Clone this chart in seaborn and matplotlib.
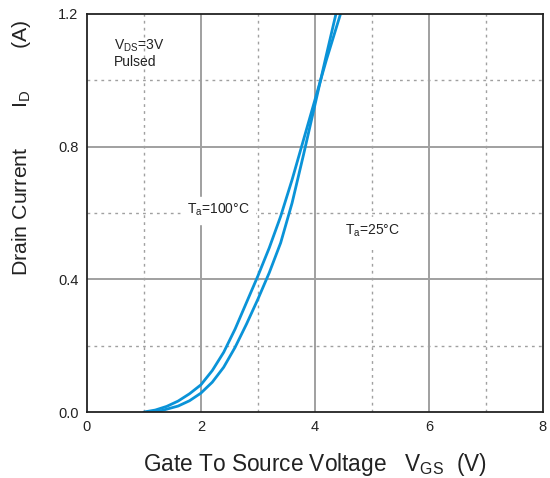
import numpy as np
import pandas as pd
import matplotlib
matplotlib.use("Agg")
import matplotlib.pyplot as plt
import seaborn as sns

# Transfer characteristics
vgs_100 = [1.0, 1.2, 1.4, 1.6, 1.8, 2.0, 2.2, 2.4, 2.6, 2.8, 3.0, 3.2, 3.4, 3.6, 3.8, 4.0, 4.2, 4.45]
id_100 = [0.0, 0.006, 0.017, 0.033, 0.055, 0.082, 0.125, 0.18, 0.25, 0.33, 0.41, 0.495, 0.59, 0.70, 0.82, 0.94, 1.06, 1.2]

vgs_25 = [1.05, 1.3, 1.6, 1.8, 2.0, 2.2, 2.4, 2.6, 2.8, 3.0, 3.2, 3.4, 3.6, 3.8, 4.0, 4.2, 4.37]
id_25 = [0.0, 0.004, 0.018, 0.034, 0.057, 0.09, 0.135, 0.195, 0.265, 0.34, 0.42, 0.51, 0.63, 0.775, 0.925, 1.075, 1.2]

x_ticks = [0, 2, 4, 6, 8]
y_ticks = [0.0, 0.4, 0.8, 1.2]
y_tick_labels = ["0.0", "0.4", "0.8", "1.2"]

sns.set_style("white")
plt.rcParams['font.family'] = ['Liberation Sans', 'DejaVu Sans']
plt.rcParams['mathtext.fontset'] = 'custom'
plt.rcParams['mathtext.rm'] = 'Liberation Sans'

df = pd.concat([
    pd.DataFrame({'vgs': vgs_100, 'id': id_100, 'temp': '100'}),
    pd.DataFrame({'vgs': vgs_25, 'id': id_25, 'temp': '25'}),
])

fig = plt.figure(figsize=(5.5, 4.78), dpi=100)
ax = fig.add_axes([0.158, 0.138, 0.829, 0.833])

# grid: solid at major, dotted at minor
for x in [2, 4, 6]:
    ax.axvline(x, color='#a0a0a0', lw=1.4, zorder=0)
for x in [1, 3, 5, 7]:
    ax.axvline(x, color='#a0a0a0', lw=1.0, ls=(0, (2, 3)), zorder=0)
for y in [0.4, 0.8]:
    ax.axhline(y, color='#a0a0a0', lw=1.4, zorder=0)
for y in [0.2, 0.6, 1.0]:
    ax.axhline(y, color='#a0a0a0', lw=1.0, ls=(0, (2, 3)), zorder=0)

sns.lineplot(data=df, x='vgs', y='id', units='temp', estimator=None,
             color='#0a93d8', lw=2.0, ax=ax, sort=False, legend=False)

ax.set_xlim(0, 8)
ax.set_ylim(0, 1.2)
ax.set_xticks(x_ticks)
ax.set_yticks(y_ticks)
ax.set_yticklabels(y_tick_labels)
ax.tick_params(length=0, labelsize=10.5, colors='#222222', pad=6)
for s in ax.spines.values():
    s.set_color('#222222')
    s.set_linewidth(1.3)

ax.set_xlabel(r'Gate To Source Voltage   V$\mathregular{_{GS}}$  (V)', fontsize=16.3, color='#222222', labelpad=12)
ax.set_ylabel(r'Drain Current       I$\mathregular{_{D}}$       (A)', fontsize=15.3, color='#222222')
ax.yaxis.set_label_coords(-0.118, 0.663)

txt = dict(fontsize=10, color='#222222', va='center', ha='left')
ax.text(0.48, 1.105, r'V$\mathregular{_{DS}}$=3V', **txt)
ax.text(0.48, 1.055, 'Pulsed', **txt)
ax.text(1.75, 0.608, r'T$\mathregular{_a}$=100°C', backgroundcolor='white', **txt)
ax.text(4.52, 0.545, r'T$\mathregular{_a}$=25°C', backgroundcolor='white', **txt)

fig.savefig('out.png', dpi=100)
